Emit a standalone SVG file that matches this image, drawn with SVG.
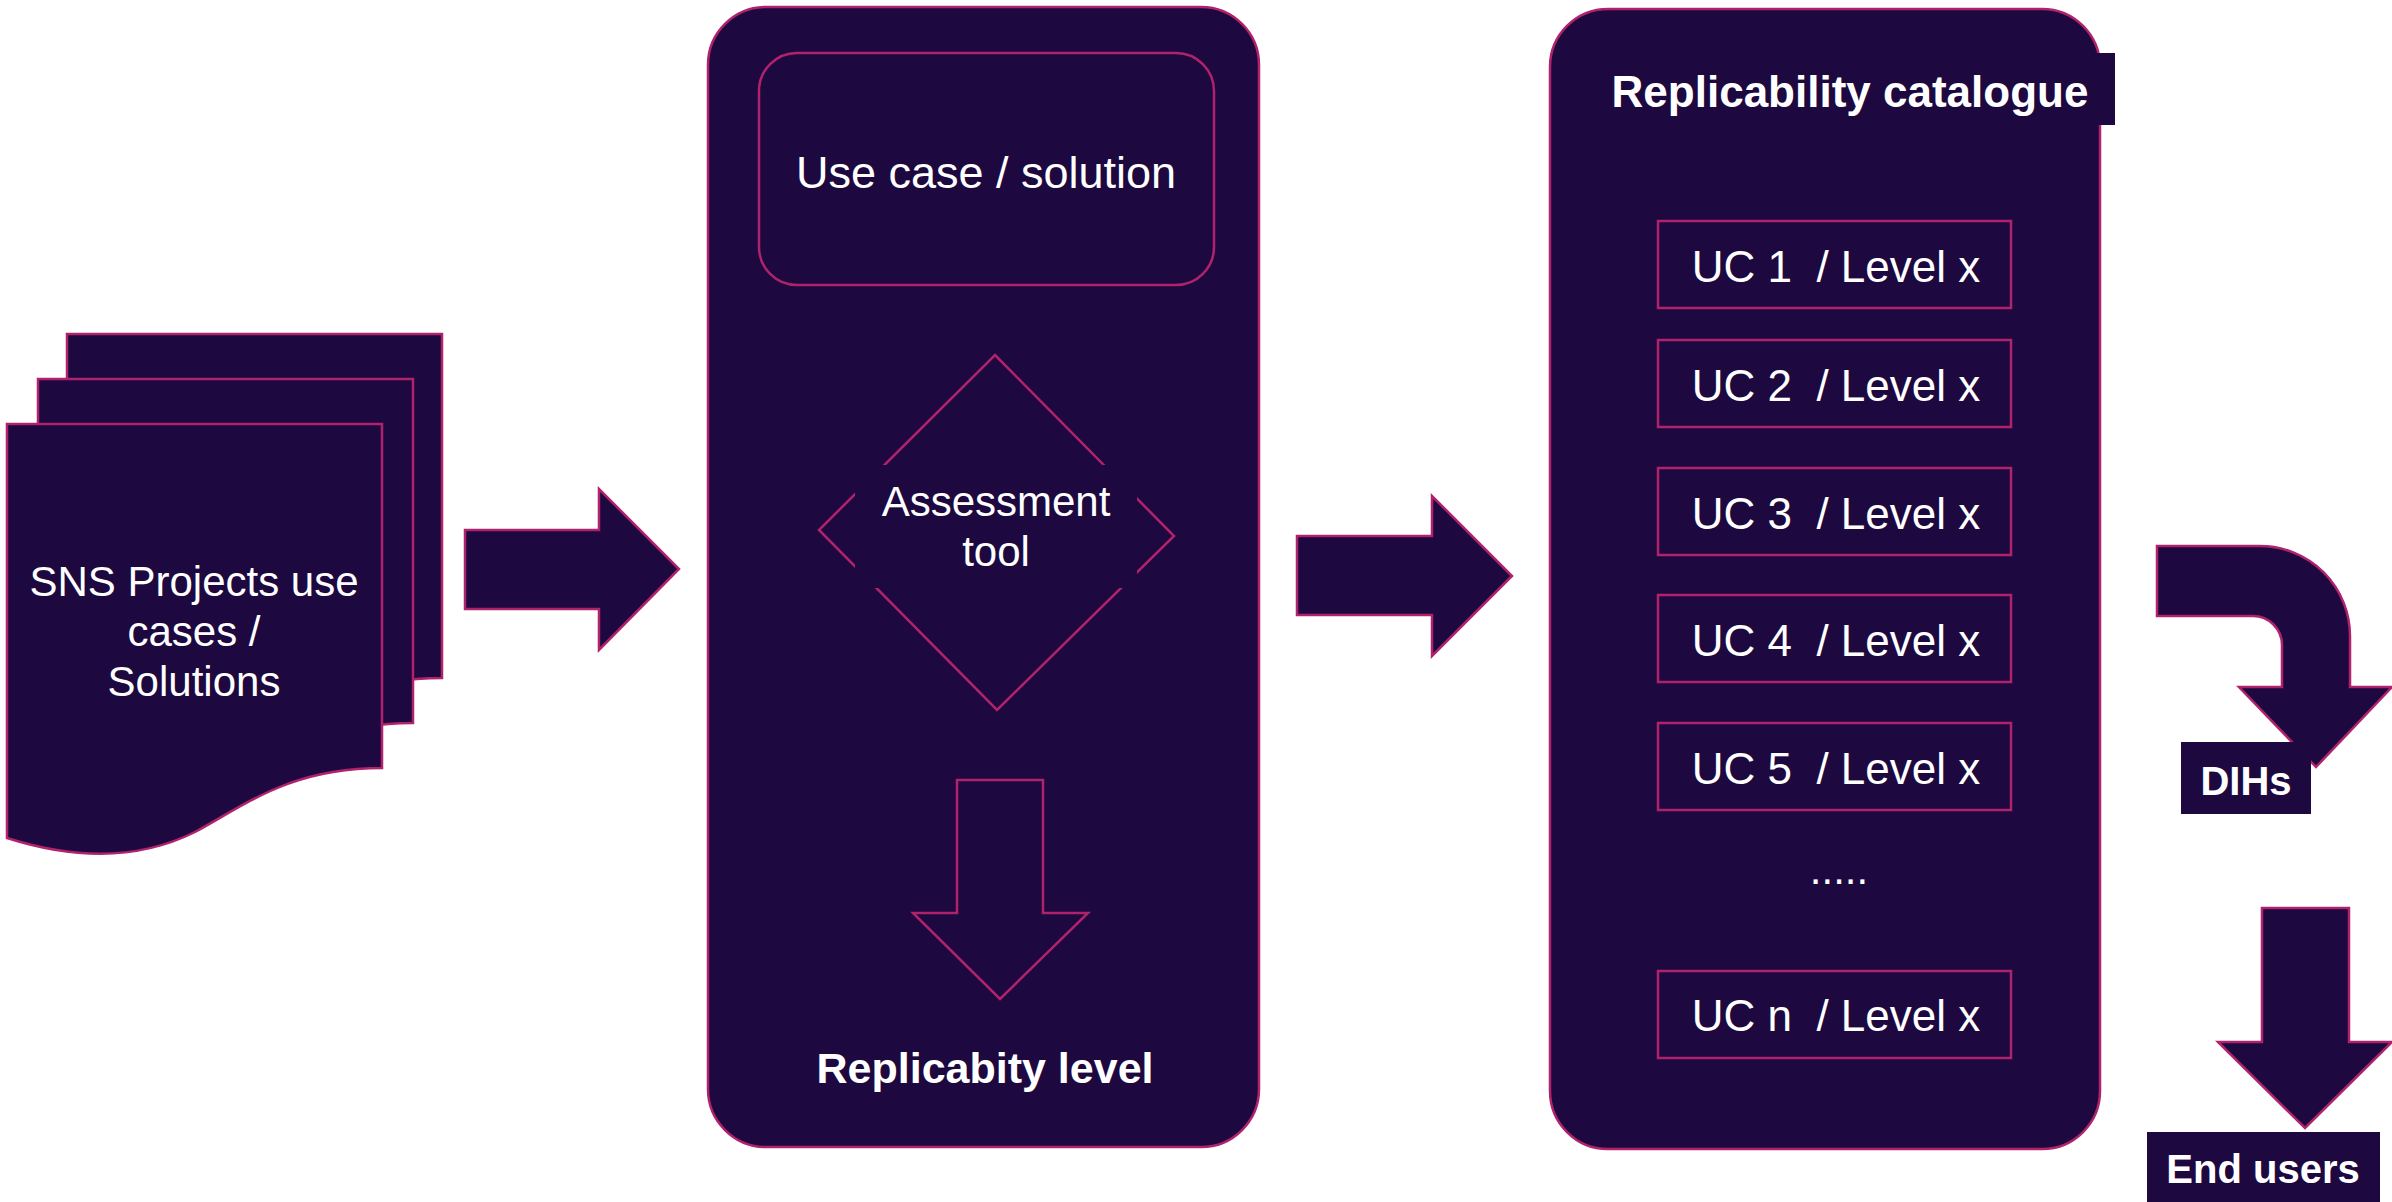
<svg xmlns="http://www.w3.org/2000/svg" xmlns:xlink="http://www.w3.org/1999/xlink" width="2392" height="1202" viewBox="0 0 2392 1202">
  <style>
    .shape { fill: #1d0940; stroke: #b0236c; stroke-width: 2.5; }
    .outline { fill: none; stroke: #b0236c; stroke-width: 2.5; }
    .plain { fill: #1d0940; stroke: none; }
    .txt { font-family: "Liberation Sans", Arial, sans-serif; fill: #ffffff; text-anchor: middle; }
    .bold { font-family: "Liberation Sans", Arial, sans-serif; font-weight: bold; fill: #ffffff; text-anchor: middle; }
    .pre { white-space: pre; }
  </style>
  <defs>
    <!-- document page with wavy bottom edge -->
    <path id="page" d="M7,424 H382 V768 C290,768 245,805 195,832 C135,862 70,858 7,838 Z"/>
  </defs>
  <rect width="2392" height="1202" fill="#ffffff"/>

  <!-- stacked project documents -->
  <g id="sns-projects">
    <use xlink:href="#page" class="shape" transform="translate(60,-90)"/>
    <use xlink:href="#page" class="shape" transform="translate(31,-45)"/>
    <use xlink:href="#page" class="shape"/>
    <text class="txt" x="194" y="596" font-size="42">SNS Projects use</text>
    <text class="txt" x="194" y="646" font-size="42">cases /</text>
    <text class="txt" x="194" y="696" font-size="42">Solutions</text>
  </g>

  <!-- assessment panel -->
  <g id="assessment-panel">
    <rect class="shape" x="708" y="7" width="551" height="1140" rx="58" ry="58" stroke-width="2"/>
    <g id="use-case">
      <rect class="outline" x="759" y="53" width="455" height="232" rx="38" ry="38"/>
      <text class="txt" x="986" y="188" font-size="45">Use case / solution</text>
    </g>
    <g id="assessment-tool">
      <polygon class="outline" points="995,355 1174,536 997,710 819,530"/>
      <rect class="plain" x="855" y="465" width="282" height="123"/>
      <text class="txt" x="996" y="516" font-size="42">Assessment</text>
      <text class="txt" x="996" y="566" font-size="42">tool</text>
    </g>
    <polygon class="outline" points="957,780 1043,780 1043,913 1088,913 1000,999 913,913 957,913" stroke-width="2"/>
    <text class="bold" x="985" y="1083" font-size="43">Replicabity level</text>
  </g>

  <!-- replicability catalogue panel -->
  <g id="catalogue-panel">
    <rect class="shape" x="1550" y="9" width="550" height="1140" rx="58" ry="58" stroke-width="2"/>
    <rect class="plain" x="1600" y="53" width="515" height="72"/>
    <text class="bold" x="1850" y="107" font-size="44">Replicability catalogue</text>
    <rect class="outline" x="1658" y="221" width="353" height="87"/>
    <text class="txt pre" xml:space="preserve" x="1836" y="282" font-size="44">UC 1  / Level x</text>
    <rect class="outline" x="1658" y="340" width="353" height="87"/>
    <text class="txt pre" xml:space="preserve" x="1836" y="401" font-size="44">UC 2  / Level x</text>
    <rect class="outline" x="1658" y="468" width="353" height="87"/>
    <text class="txt pre" xml:space="preserve" x="1836" y="529" font-size="44">UC 3  / Level x</text>
    <rect class="outline" x="1658" y="595" width="353" height="87"/>
    <text class="txt pre" xml:space="preserve" x="1836" y="656" font-size="44">UC 4  / Level x</text>
    <rect class="outline" x="1658" y="723" width="353" height="87"/>
    <text class="txt pre" xml:space="preserve" x="1836" y="784" font-size="44">UC 5  / Level x</text>
    <text class="txt" x="1839" y="884" font-size="42">.....</text>
    <rect class="outline" x="1658" y="971" width="353" height="87"/>
    <text class="txt pre" xml:space="preserve" x="1836" y="1031" font-size="44">UC n  / Level x</text>
  </g>

  <!-- block arrows between stages -->
  <g id="connectors">
    <polygon class="shape" points="465,530 599,530 599,489 679,569 599,650 599,609 465,609" stroke-width="3"/>
    <polygon class="shape" points="1297,536 1432,536 1432,496 1512,576 1432,656 1432,615 1297,615" stroke-width="3"/>
    <path class="shape" stroke-width="3" d="M2157,546 H2260 A90,90 0 0 1 2350,636 V687 H2392 L2316,767 L2239,687 H2282 V645 A29,29 0 0 0 2253,616 H2157 Z"/>
    <polygon class="shape" points="2262,908 2349,908 2349,1042 2392,1042 2305,1128 2218,1042 2262,1042" stroke-width="3"/>
  </g>

  <!-- DIHs target, drawn over the arrowhead -->
  <g id="dihs">
    <rect class="plain" x="2181" y="742" width="130" height="72"/>
    <text class="bold" x="2246" y="795" font-size="40">DIHs</text>
  </g>

  <!-- end users target -->
  <g id="end-users">
    <rect class="plain" x="2147" y="1132" width="233" height="70"/>
    <text class="bold" x="2263" y="1183" font-size="40">End users</text>
  </g>
</svg>
